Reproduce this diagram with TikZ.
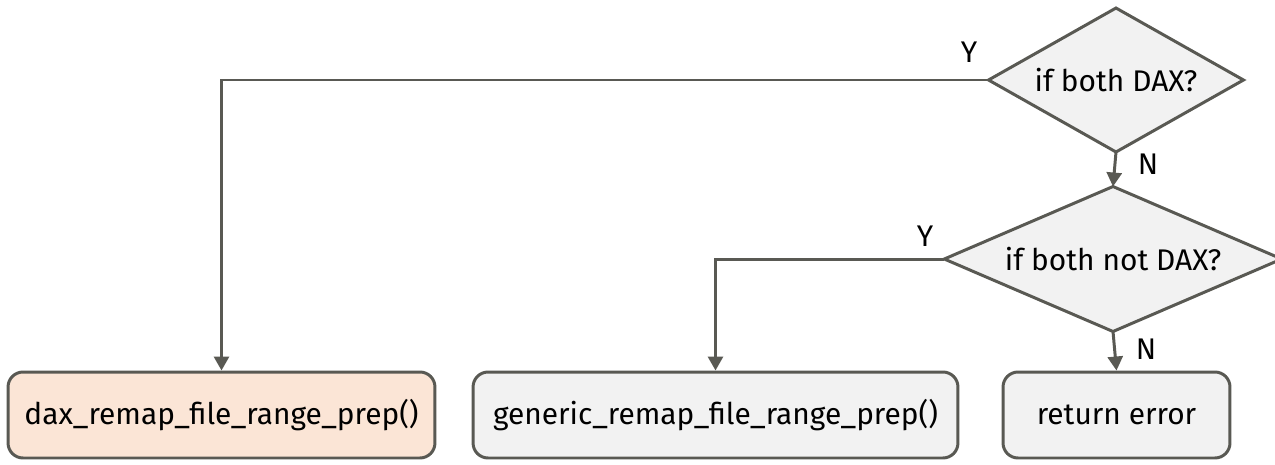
\documentclass[tikz,border=0pt]{standalone}
\usepackage{fontspec}
\setmainfont{Fira Sans}
\usetikzlibrary{shapes.geometric,arrows.meta}
\definecolor{linegray}{HTML}{595953}
\definecolor{boxgray}{HTML}{F2F2F2}
\definecolor{boxpeach}{HTML}{FBE5D6}
\tikzset{
	flowbox/.style={draw=linegray, line width=1.7pt, fill=boxgray, rounded corners=0.3cm,
		minimum height=1.72cm, inner sep=0pt, font=\fontsize{17}{20}\selectfont},
	decide/.style={diamond, draw=linegray, line width=1.7pt, fill=boxgray, inner sep=0pt,
		outer sep=0pt, font=\fontsize{17}{20}\selectfont},
	flowline/.style={draw=linegray, line width=1.7pt, -{Triangle[length=0.28cm,width=0.3cm]}},
	yn/.style={font=\fontsize{17}{20}\selectfont}
}

\begin{document}
\begin{tikzpicture}[x=0.02cm,y=-0.02cm]
	\useasboundingbox (0,0) rectangle (1275,464);
	% decisions
	\node[decide, aspect=1.77, minimum width=5.1cm, minimum height=2.88cm] (dax) at (1116,80) {if both DAX?};
	\node[decide, aspect=2.3, minimum width=6.75cm, minimum height=2.9cm] (notdax) at (1113,259) {if both not DAX?};
	% results
	\node[flowbox, fill=boxpeach, minimum width=8.54cm] (daxprep) at (221.5,415) {dax\_remap\_file\_range\_prep()};
	\node[flowbox, minimum width=9.7cm] (genprep) at (715.5,415) {generic\_remap\_file\_range\_prep()};
	\node[flowbox, minimum width=4.54cm] (reterr) at (1116.5,415) {return error};
	% connectors
	\draw[flowline] (dax.west) -| (daxprep.north);
	\draw[flowline] (notdax.west) -| (genprep.north);
	\draw[flowline] (dax.south) -- (notdax.north);
	\draw[flowline] (notdax.south) -- (reterr.north);
	% labels
	\node[yn] (y1) at (969,52) {Y};
	\node[yn] (n1) at (1148,164) {N};
	\node[yn] (y2) at (925,236) {Y};
	\node[yn] (n2) at (1146,349) {N};
\end{tikzpicture}
\end{document}
